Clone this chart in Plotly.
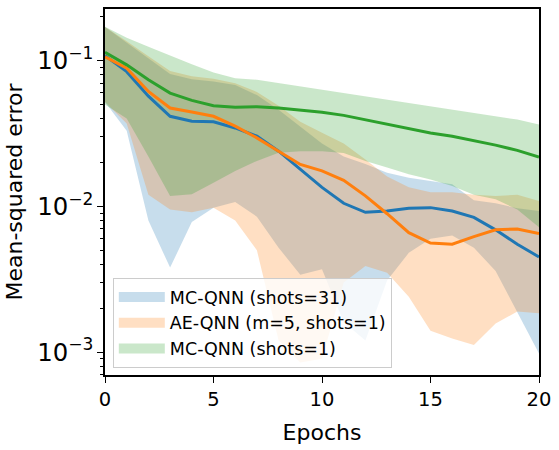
import plotly.graph_objects as go

epochs = list(range(21))

mc31_mean = [0.108, 0.084, 0.057, 0.0415, 0.0384, 0.038, 0.0345, 0.0303, 0.0239, 0.018, 0.0135,
             0.0105, 0.0091, 0.0093, 0.0097, 0.0098, 0.0093, 0.0084, 0.0069, 0.0055, 0.0045]
mc31_upper = [0.17, 0.133, 0.104, 0.081, 0.0746, 0.072, 0.068, 0.058, 0.046, 0.035, 0.027,
              0.022, 0.0195, 0.017, 0.0157, 0.0149, 0.0142, 0.011, 0.0105, 0.0097, 0.0093]
mc31_lower = [0.052, 0.033, 0.008, 0.0038, 0.0078, 0.0098, 0.0107, 0.0085, 0.0052, 0.0034, 0.0037,
              0.0016, 0.0012, 0.0031, 0.0048, 0.006, 0.0063, 0.0052, 0.0036, 0.0019, 0.00098]

ae_mean = [0.106, 0.0886, 0.0614, 0.0473, 0.0444, 0.0415, 0.0355, 0.0295, 0.0239, 0.0194, 0.0175,
           0.0151, 0.0118, 0.0089, 0.0066, 0.0056, 0.0055, 0.0062, 0.0069, 0.0070, 0.0065]
ae_upper = [0.17, 0.136, 0.107, 0.085, 0.078, 0.075, 0.07, 0.061, 0.049, 0.038, 0.032,
            0.027, 0.021, 0.016, 0.0135, 0.0125, 0.0125, 0.012, 0.0118, 0.012, 0.0109]
ae_lower = [0.052, 0.037, 0.012, 0.0095, 0.0091, 0.0098, 0.008, 0.005, 0.0012, 0.00085, 0.0009,
            0.0030, 0.0039, 0.0035, 0.0024, 0.0014, 0.00124, 0.00112, 0.00157, 0.0019, 0.00185]

mc1_mean = [0.114, 0.0935, 0.0738, 0.0598, 0.0533, 0.049, 0.0478, 0.0483, 0.0473, 0.0456, 0.0442,
            0.0421, 0.0392, 0.0364, 0.034, 0.0319, 0.0303, 0.0283, 0.0263, 0.0242, 0.0218]
mc1_upper = [0.171, 0.1436, 0.1247, 0.108, 0.0944, 0.0828, 0.0757, 0.0738, 0.07, 0.0665, 0.063,
             0.06, 0.0568, 0.054, 0.0511, 0.0485, 0.046, 0.0436, 0.0415, 0.0394, 0.0364]
mc1_lower = [0.05, 0.04, 0.022, 0.0118, 0.0121, 0.0145, 0.0175, 0.0205, 0.0233, 0.0239, 0.0239,
             0.0232, 0.0205, 0.0185, 0.0166, 0.0153, 0.0138, 0.012, 0.0112, 0.0095, 0.0072]

labels = ["MC-QNN (shots=31)", "AE-QNN (m=5, shots=1)", "MC-QNN (shots=1)"]
line_colors = ["#1f77b4", "#ff7f0e", "#2ca02c"]
fill_colors = ["rgba(31,119,180,0.25)", "rgba(255,127,14,0.25)", "rgba(44,160,44,0.25)"]

series = [
    (mc31_mean, mc31_upper, mc31_lower),
    (ae_mean, ae_upper, ae_lower),
    (mc1_mean, mc1_upper, mc1_lower),
]

fig = go.Figure()
for i, (mean, up, lo) in enumerate(series):
    fig.add_trace(go.Scatter(
        x=epochs + epochs[::-1], y=up + lo[::-1],
        fill="toself", fillcolor=fill_colors[i], line=dict(width=0),
        mode="lines", showlegend=False, hoverinfo="skip"))
for i, (mean, up, lo) in enumerate(series):
    fig.add_trace(go.Scatter(
        x=epochs, y=mean, mode="lines",
        line=dict(color=line_colors[i], width=3),
        showlegend=False))
# legend entries (patch-like swatches)
for i in range(3):
    fig.add_trace(go.Scatter(
        x=[None], y=[None], mode="lines", name=labels[i],
        line=dict(color=fill_colors[i], width=12),
        legendgroup=str(i), showlegend=True))

tick_font = dict(family="DejaVu Sans", size=19.5, color="black")
title_font = dict(family="DejaVu Sans", size=22, color="black")
axis_common = dict(
    showline=True, linecolor="black", linewidth=1.5, mirror=True,
    ticks="outside", ticklen=6, tickwidth=1.3, tickcolor="black",
    showgrid=False, zeroline=False, tickfont=tick_font,
)

fig.update_xaxes(range=[0, 20], tickvals=[0, 5, 10, 15, 20],
                 title=dict(text="Epochs", font=title_font, standoff=14),
                 **axis_common)
fig.update_yaxes(type="log", range=[-3.157, -0.646], dtick=1, exponentformat="power",
                 minor=dict(ticks="outside", ticklen=3.5, tickwidth=1, tickcolor="black", dtick="D1", showgrid=False),
                 title=dict(text="Mean-squared error", font=title_font, standoff=9),
                 **axis_common)

fig.update_layout(
    width=559, height=450,
    margin=dict(l=105, r=20, t=7, b=75),
    plot_bgcolor="white", paper_bgcolor="white",
    font=dict(family="DejaVu Sans", color="black"),
    legend=dict(x=0.018, y=0.019, xanchor="left", yanchor="bottom",
                bgcolor="rgba(255,255,255,0.8)", bordercolor="#cccccc", borderwidth=1,
                font=dict(family="DejaVu Sans", size=17.5, color="black"),
                tracegroupgap=0, itemwidth=46),
)

fig.write_html("out.html")
